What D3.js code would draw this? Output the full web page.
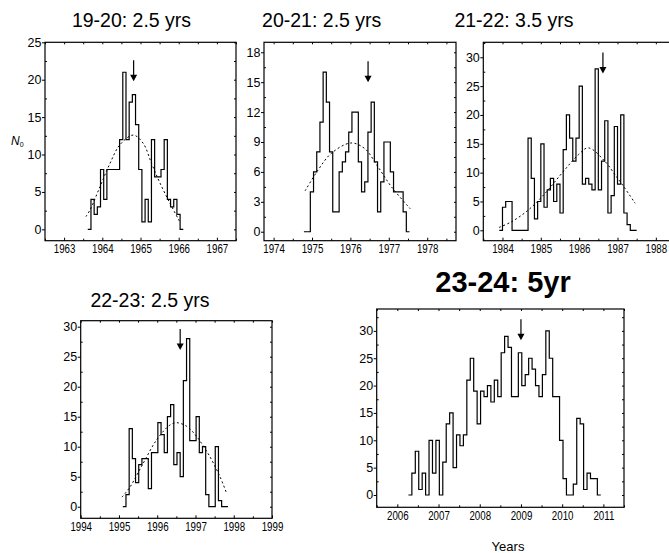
<!DOCTYPE html>
<html>
<head>
<meta charset="utf-8">
<script src="https://cdn.jsdelivr.net/npm/d3@7"></script>
<style>
  body { margin: 0; background: #fff; }
  svg { display: block; font-family: "Liberation Sans", Arial, sans-serif; }
</style>
</head>
<body>
<svg id="chart" width="669" height="553"></svg>
<script>
// cycle titles
var titles = ["19-20: 2.5 yrs", "20-21: 2.5 yrs", "21-22: 3.5 yrs", "22-23: 2.5 yrs", "23-24: 5yr"];

// monthly counts N0 (bin = 1/12 yr), first bin starts at binStart[i]
var binStart = [1963.62, 1974.79, 1983.917, 1995.10, 2006.27];
var counts19 = [0,4,2,3,8,4,8,8,8,8,12,21,12,17,18,14,8,1,4,1,12,7,7,8,12,4,3,4,2,0];
var counts20 = [0,0,4,6,8,11,16,13,8,2,2,6,7,8,10,12,12,7,4,5,10,13,7,2,5,9,9,6,4,4,4,2,0];
var counts21 = [0,4,5,5,0,0,0,0,0,16,9,2,5,15,4,7,9,5,8,3,14,20,16,12,16,25,8,9,8,7,28,7,12,19,3,6,18,8,20,3,1,0,0];
var counts22 = [0,2,13,8,4,7,8,8,3,9,9,14,12,9,15,17,7,9,5,21,28,11,11,15,9,10,2,0,0,10,1,0,0];
var counts23 = [0,4,8,1,4,0,10,4,10,0,6,13,15,5,11,9,11,21,25,19,13,19,18,20,17,21,18,26,29,27,18,18,26,20,22,25,23,20,18,22,30,25,18,18,10,3,0,0,2,14,13,1,4,3,3,0];

// dashed fit curves [year, N0]
var fit19 = [[1963.57,1.7],[1963.68,2.6],[1963.94,5.7],[1964.2,8.8],[1964.46,11.3],[1964.81,12.6],[1965.07,11.5],[1965.29,8.8],[1965.5,6.3],[1965.77,3.5],[1966.03,1.0]];
var fit20 = [[1974.82,4.1],[1975.16,6.2],[1975.5,7.85],[1976.01,8.9],[1976.37,8.35],[1976.72,6.5],[1977.07,4.5],[1977.56,2.3]];
var fit21 = [[1983.91,0.5],[1984.24,1.5],[1984.67,3.5],[1985.11,6.4],[1985.55,9.9],[1985.98,13.1],[1986.24,14.3],[1986.68,11.9],[1986.94,9.6],[1987.16,7.6],[1987.46,4.7]];
var fit22 = [[1995.08,1.6],[1995.29,3.3],[1995.63,7.2],[1995.98,11.1],[1996.33,13.6],[1996.51,14.0],[1996.77,13.4],[1997.03,11.7],[1997.38,8.3],[1997.64,5.0],[1997.81,2.3]];

// arrow markers [year, N0 at arrow tip]
var arrows = [[1964.82, 19.8], [1976.46, 15.0], [1986.62, 27.2], [1996.6, 26.1], [2009.0, 28.3]];

var yTickStep = [5, 3, 5, 5, 5];
var yTickMax = [25, 18, 30, 30, 30];

var allCounts = [counts19, counts20, counts21, counts22, counts23];
var allFits = [fit19, fit20, fit21, fit22, null];

// panel boxes
var layout = [
  {l: 45,    r: 236, t: 42.3,  b: 240.7, xd: [1962.5, 1967.5],  yd: [-1.52, 25],  tx: 131.5, ty: 27},
  {l: 264,   r: 456, t: 42.3,  b: 240.7, xd: [1973.75, 1978.75], yd: [-0.9, 19],  tx: 321.7, ty: 27},
  {l: 483.3, r: 675, t: 42.3,  b: 240.7, xd: [1983.5, 1988.5],  yd: [-1.8, 32.6],  tx: 514,   ty: 27},
  {l: 80.7,  r: 272, t: 320.7, b: 518.3, xd: [1994, 1999],      yd: [-1.93, 31],  tx: 150,   ty: 307},
  {l: 376.7, r: 624, t: 309,   b: 507.3, xd: [2005.5, 2011.5],  yd: [-2.25, 34],  tx: 503,   ty: 292, bold: true}
];

var svg = d3.select("#chart");

layout.forEach(function(p, i) {
  var x = d3.scaleLinear().domain(p.xd).range([p.l, p.r]);
  var y = d3.scaleLinear().domain(p.yd).range([p.b, p.t]);
  var g = svg.append("g");

  var years = d3.range(Math.ceil(p.xd[0]), Math.floor(p.xd[1]) + 1);
  var halfYears = d3.range(Math.ceil(p.xd[0] * 2) / 2, p.xd[1] + 0.01, 0.5).filter(function(v) { return v % 1 !== 0; });
  var yMajor = d3.range(0, yTickMax[i] + 0.01, yTickStep[i]);
  var yMinor = d3.range(yTickStep[i] / 2, p.yd[1], yTickStep[i]);

  // minor ticks (inward, no labels)
  function minor(axis, vals, tr) {
    g.append("g").attr("transform", tr)
      .call(axis.tickValues(vals).tickSize(-2).tickSizeOuter(0).tickFormat(""))
      .call(function(s) { s.select(".domain").remove(); });
  }
  minor(d3.axisLeft(y), yMinor, "translate(" + p.l + ",0)");
  minor(d3.axisRight(y), yMinor.concat(yMajor), "translate(" + p.r + ",0)");
  minor(d3.axisBottom(x), halfYears, "translate(0," + p.b + ")");
  minor(d3.axisTop(x), halfYears.concat(years), "translate(0," + p.t + ")");

  // y axis, labelled
  var ya = g.append("g").attr("transform", "translate(" + p.l + ",0)")
    .call(d3.axisLeft(y).tickValues(yMajor).tickSize(3).tickSizeOuter(0).tickPadding(0.5));
  ya.select(".domain").remove();
  ya.selectAll("text").attr("font-size", 12.5).attr("font-family", null).attr("fill", "#000");

  // x axis, labelled (narrow type)
  var xa = g.append("g").attr("transform", "translate(0," + p.b + ")")
    .call(d3.axisBottom(x).tickValues(years).tickSize(-3).tickSizeOuter(0).tickPadding(3.5).tickFormat(d3.format("d")));
  xa.select(".domain").remove();
  xa.selectAll("text").attr("font-size", 12.5).attr("font-family", null).attr("fill", "#000")
    .attr("transform", "scale(0.78,1)");

  g.selectAll(".tick line").attr("stroke", "#000").attr("stroke-width", 1);

  // frame
  g.append("rect")
    .attr("x", p.l).attr("y", p.t)
    .attr("width", p.r - p.l).attr("height", p.b - p.t)
    .attr("fill", "none").attr("stroke", "#000").attr("stroke-width", 1.2);

  // histogram steps
  var c = allCounts[i];
  var pts = c.map(function(v, k) { return [binStart[i] + k / 12, v]; });
  pts.push([binStart[i] + c.length / 12, c[c.length - 1]]);
  g.append("path")
    .datum(pts)
    .attr("fill", "none").attr("stroke", "#000").attr("stroke-width", 1.2)
    .attr("d", d3.line().x(function(d) { return x(d[0]); }).y(function(d) { return y(d[1]); }).curve(d3.curveStepAfter));

  // dashed fit
  if (allFits[i]) {
    g.append("path")
      .datum(allFits[i])
      .attr("fill", "none").attr("stroke", "#000").attr("stroke-width", 1)
      .attr("stroke-dasharray", "2,2.5")
      .attr("d", d3.line().x(function(d) { return x(d[0]); }).y(function(d) { return y(d[1]); }).curve(d3.curveCatmullRom));
  }

  // arrow
  var ax = x(arrows[i][0]), ay = y(arrows[i][1]);
  g.append("line")
    .attr("x1", ax).attr("x2", ax).attr("y1", ay - 21).attr("y2", ay - 4)
    .attr("stroke", "#000").attr("stroke-width", 1.2);
  g.append("path")
    .attr("d", "M" + (ax - 3.5) + "," + (ay - 6.5) + "L" + (ax + 3.5) + "," + (ay - 6.5) + "L" + ax + "," + ay + "Z")
    .attr("fill", "#000");

  // title
  svg.append("text")
    .attr("x", p.tx).attr("y", p.ty)
    .attr("text-anchor", "middle")
    .attr("font-size", p.bold ? 29 : 19.5)
    .attr("font-weight", p.bold ? "bold" : "normal")
    .text(titles[i]);
});

// y label N0
var nl = svg.append("text").attr("x", 11).attr("y", 145).attr("font-size", 12);
nl.append("tspan").attr("font-style", "italic").text("N");
nl.append("tspan").attr("font-size", 7).attr("dy", 2).text("0");

// x label
svg.append("text")
  .attr("x", 508).attr("y", 551)
  .attr("text-anchor", "middle")
  .attr("font-size", 13)
  .text("Years");
</script>
</body>
</html>
